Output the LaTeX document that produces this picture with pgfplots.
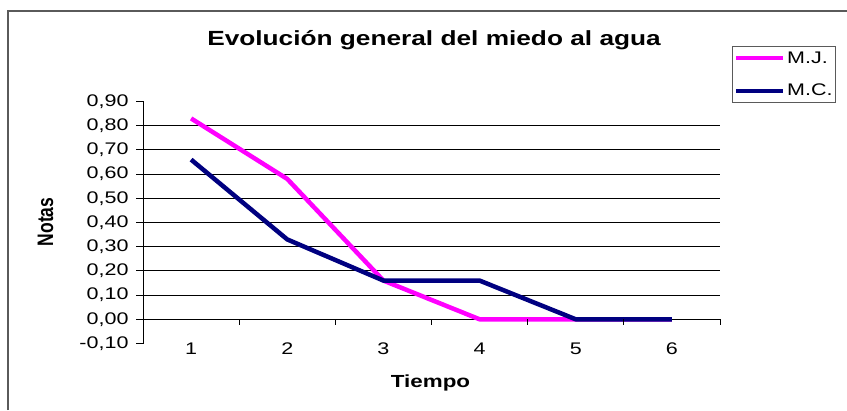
\documentclass[border=0pt]{standalone}
\usepackage{fontspec}
\setmainfont{Liberation Sans}[FakeStretch=1.28]
\newfontfamily\rotfont{Liberation Sans}
\usepackage{pgfplots}
\pgfplotsset{compat=1.18}
\definecolor{mj}{RGB}{255,0,255}
\definecolor{mc}{RGB}{0,0,128}
\definecolor{framec}{RGB}{90,90,90}
\begin{document}
\begin{tikzpicture}[x=1bp,y=1bp]
\path[use as bounding box] (0,0) rectangle (847,410);
\draw[framec, line width=2bp] (8,0) -- (8,399) -- (847,399);
\node[font=\fontsize{20.5bp}{24bp}\selectfont\bfseries, anchor=base] at (434,365) {Evolución general del miedo al agua};
\node[font=\fontsize{17.5bp}{21bp}\selectfont\bfseries, anchor=base] at (430.5,23) {Tiempo};
\node[rotate=90, inner sep=0pt] at (45.5,188) {\scalebox{1}[1.28]{\rotfont\fontsize{17.5bp}{21bp}\selectfont\bfseries Notas}};
\begin{axis}[
  at={(143bp,66.5bp)}, anchor=south west, scale only axis,
  width=577bp, height=242bp,
  xmin=0.5, xmax=6.5, ymin=-0.1, ymax=0.9,
  axis y line*=left, axis x line*=bottom,
  x axis line style={draw=none},
  y axis line style={black, line width=1bp},
  xtick={1,2,3,4,5,6}, xtick style={draw=none},
  ytick={-0.1,0,0.1,0.2,0.3,0.4,0.5,0.6,0.7,0.8,0.9},
  ytick style={black, line width=1bp},
  tick align=outside, major tick length=7bp,
  extra y ticks={0,0.1,0.2,0.3,0.4,0.5,0.6,0.7,0.8},
  extra y tick labels={},
  extra y tick style={grid=major, major tick length=0pt},
  grid style={black, line width=1bp},
  /pgf/number format/assume math mode=true,
  tick label style={font=\fontsize{16.8bp}{20bp}\selectfont},
  yticklabel style={xshift=-4bp, /pgf/number format/.cd, fixed, fixed zerofill, precision=2, use comma},
  xticklabel style={inner sep=0pt, anchor=north, yshift=8bp},
  legend style={at={(axis description cs:1.0208,1.2294)}, anchor=north west,
    draw=framec, line width=1.2bp, font=\fontsize{16.8bp}{20bp}\selectfont,
    inner xsep=1.5bp, inner ysep=0bp, row sep=9.5bp, column sep=0bp,
    nodes={inner xsep=1.5bp, inner ysep=5bp}},
  legend cell align=left,
  legend image code/.code={\draw[#1] (0bp,0bp) -- (47bp,0bp);},
  clip=false,
]
\addplot[mj, line width=4.5bp, line join=round] coordinates {(1,0.83)(2,0.58)(3,0.16)(4,0)(5,0)(6,0)};
\addplot[mc, line width=4.5bp, line join=round] coordinates {(1,0.66)(2,0.33)(3,0.16)(4,0.16)(5,0)(6,0)};
\legend{M.J.,M.C.}
\pgfplotsinvokeforeach{1.5,2.5,3.5,4.5,5.5,6.5}{\draw[black, line width=1bp] (axis cs:#1,0) -- ([yshift=-6bp]axis cs:#1,0);}
\end{axis}
\end{tikzpicture}
\end{document}
